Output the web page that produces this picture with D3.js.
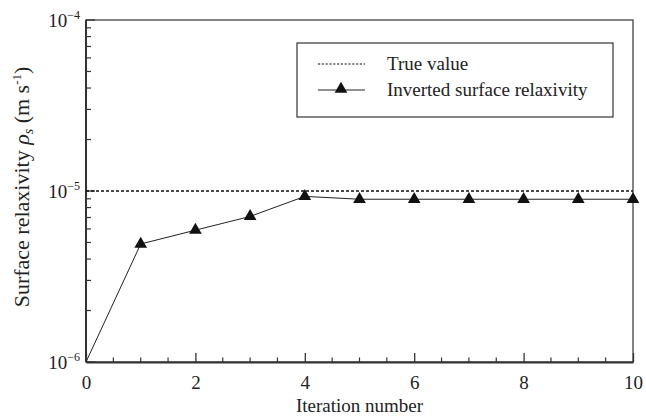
<!DOCTYPE html>
<html>
<head>
<meta charset="utf-8">
<script src="https://cdn.jsdelivr.net/npm/d3@7"></script>
<style>
  html, body { margin: 0; padding: 0; background: #fff; }
</style>
</head>
<body>
<svg id="chart" width="646" height="416"></svg>
<script>
// Iteration index and inverted surface relaxivity (m/s)
const iterations = [0, 1, 2, 3, 4, 5, 6, 7, 8, 9, 10];
const inverted = [1.0e-6, 4.9e-6, 5.9e-6, 7.1e-6, 9.3e-6, 8.95e-6, 8.95e-6, 8.95e-6, 8.95e-6, 8.95e-6, 8.95e-6];
const trueValue = [1e-5];
const xTicks = [0, 2, 4, 6, 8, 10];
const yDecades = [-6, -5, -4];
const legendLabels = ["True value", "Inverted surface relaxivity"];

const serif = "'Liberation Serif', Tinos, 'Times New Roman', FreeSerif";
const svg = d3.select("#chart");
const margin = { left: 86, right: 13, top: 20, bottom: 54 };
const W = 646, H = 416;
const x = d3.scaleLinear().domain([0, 10]).range([margin.left, W - margin.right]);
const y = d3.scaleLog().domain([1e-6, 1e-4]).range([H - margin.bottom, margin.top]);

const axisColor = "#333";

// frame
svg.append("rect")
  .attr("x", x(0)).attr("y", y(1e-4))
  .attr("width", x(10) - x(0)).attr("height", y(1e-6) - y(1e-4))
  .attr("fill", "none").attr("stroke", axisColor).attr("stroke-width", 1.2);

// bottom axis with inward ticks
const xMinor = d3.range(0, 10.01, 0.5).filter(v => !xTicks.includes(v));
const xAxis = d3.axisBottom(x).tickValues(xTicks).tickSizeInner(-9).tickSizeOuter(0).tickPadding(14);
const gx = svg.append("g").attr("transform", `translate(0,${y(1e-6)})`).call(xAxis)
  .attr("font-family", null).attr("font-size", null);
gx.select(".domain").attr("stroke", axisColor).attr("stroke-width", 2);
gx.selectAll(".tick line").attr("stroke", axisColor).attr("stroke-width", 1.3);
gx.selectAll(".tick text")
  .style("font-family", serif).style("font-size", "19px").attr("fill", "#222");
gx.selectAll(".minor").data(xMinor).enter().append("line")
  .attr("x1", d => x(d)).attr("x2", d => x(d))
  .attr("y1", 0).attr("y2", -4.5)
  .attr("stroke", axisColor).attr("stroke-width", 1.2);

// left axis: log decades with minor ticks, inward
const yMinor = [];
yDecades.slice(0, -1).forEach(e => { for (let m = 2; m <= 9; m++) yMinor.push(m * Math.pow(10, e)); });
const gy = svg.append("g").attr("transform", `translate(${x(0)},0)`);
gy.append("line").attr("x1", 0).attr("x2", 0).attr("y1", y(1e-6)).attr("y2", y(1e-4))
  .attr("stroke", axisColor).attr("stroke-width", 2);
gy.selectAll(".ymin").data(yMinor).enter().append("line")
  .attr("x1", 0).attr("x2", 5).attr("y1", d => y(d)).attr("y2", d => y(d))
  .attr("stroke", axisColor).attr("stroke-width", 1.2);
gy.selectAll(".ymaj").data(yDecades).enter().append("line")
  .attr("x1", 0).attr("x2", 9).attr("y1", d => y(Math.pow(10, d))).attr("y2", d => y(Math.pow(10, d)))
  .attr("stroke", axisColor).attr("stroke-width", 1.3);
const ylab = gy.selectAll(".ylab").data(yDecades).enter().append("text")
  .attr("x", -6).attr("y", d => y(Math.pow(10, d)) + 7)
  .attr("text-anchor", "end").attr("fill", "#222")
  .style("font-family", serif).style("font-size", "19px");
ylab.append("tspan").text("10");
ylab.append("tspan").attr("dy", -8).style("font-size", "12px").text(d => "\u2212" + Math.abs(d));

// true value reference line
svg.append("line")
  .attr("x1", x(0)).attr("x2", x(10))
  .attr("y1", y(trueValue[0])).attr("y2", y(trueValue[0]))
  .attr("stroke", "#111").attr("stroke-width", 1.3).attr("stroke-dasharray", "3,2");

// inverted series
const pts = iterations.map((it, i) => [it, inverted[i]]);
svg.append("path").datum(pts)
  .attr("fill", "none").attr("stroke", "#222").attr("stroke-width", 1)
  .attr("d", d3.line().x(d => x(d[0])).y(d => y(d[1])));
const tri = d3.symbol().type(d3.symbolTriangle).size(70);
svg.selectAll(".mk").data(pts.slice(1)).enter().append("path")
  .attr("d", tri)
  .attr("transform", d => `translate(${x(d[0])},${y(d[1])})`)
  .attr("fill", "#111");

// legend
const lg = svg.append("g");
lg.append("rect").attr("x", 297).attr("y", 43).attr("width", 316).attr("height", 74)
  .attr("fill", "#fff").attr("stroke", "#333").attr("stroke-width", 1.2);
lg.append("line").attr("x1", 318).attr("x2", 365).attr("y1", 64).attr("y2", 64)
  .attr("stroke", "#111").attr("stroke-width", 1.2).attr("stroke-dasharray", "2.2,1.6");
lg.append("line").attr("x1", 318).attr("x2", 365).attr("y1", 90).attr("y2", 90)
  .attr("stroke", "#222").attr("stroke-width", 1);
lg.append("path").attr("d", tri).attr("transform", "translate(341,89)").attr("fill", "#111");
lg.selectAll(".lt").data(legendLabels).enter().append("text")
  .attr("x", 387).attr("y", (d, i) => 70 + i * 26)
  .style("font-family", serif).style("font-size", "19px").attr("fill", "#222").text(d => d);

// axis titles
svg.append("text").attr("x", (x(0) + x(10)) / 2).attr("y", 412)
  .attr("text-anchor", "middle").attr("fill", "#222")
  .style("font-family", serif).style("font-size", "19px")
  .text("Iteration number");

const yt = svg.append("text")
  .attr("transform", "translate(29,187) rotate(-90)")
  .attr("text-anchor", "middle").attr("fill", "#222")
  .style("font-family", serif).style("font-size", "22px");
yt.append("tspan").text("Surface relaxivity ");
yt.append("tspan").attr("font-style", "italic").text("\u03C1");
yt.append("tspan").attr("font-style", "italic").style("font-size", "14px").attr("dy", 4).text("s");
yt.append("tspan").attr("dy", -4).text(" (m s");
yt.append("tspan").style("font-size", "13px").attr("dy", -8).text("-1");
yt.append("tspan").attr("dy", 8).text(")");
</script>
</body>
</html>
